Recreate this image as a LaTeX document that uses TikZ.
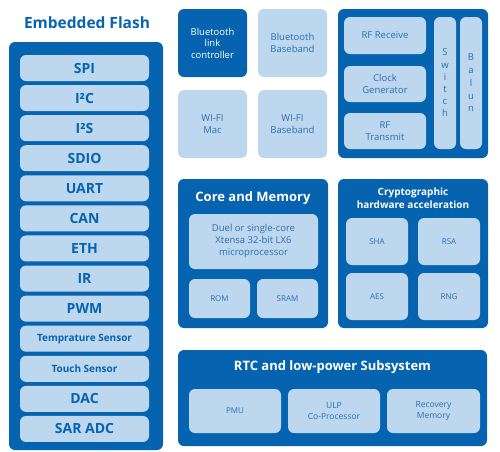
\documentclass[tikz,border=0pt]{standalone}
\usepackage{fontspec}
\setmainfont{Open Sans}
\definecolor{dblue}{HTML}{0563B0}
\definecolor{lblue}{HTML}{BDD7EE}
\definecolor{tblue}{HTML}{2A6FB3}
\tikzset{
  panel/.style={fill=dblue, draw=none, rounded corners=6pt, inner sep=0pt, outer sep=0pt},
  lbox/.style={fill=lblue, draw=none, rounded corners=6pt, inner sep=0pt, outer sep=0pt, text=tblue, align=center, font=\fontsize{9.5}{11.5}\selectfont},
  dbox/.style={lbox, fill=dblue, text=white},
  item/.style={lbox, minimum width=129pt, minimum height=26pt, text=dblue, font=\fontsize{14}{16}\selectfont\bfseries},
  smallitem/.style={item, font=\fontsize{10}{12}\selectfont\bfseries},
  ptitle/.style={text=white, align=center, inner sep=0pt, font=\fontsize{13}{15}\selectfont\bfseries},
  sbox/.style={lbox, font=\fontsize{8}{10}\selectfont}
}
\begin{document}
\begin{tikzpicture}[x=1pt,y=-1pt]
\useasboundingbox (0,0) rectangle (500,451);
% Embedded flash
\node[text=dblue, inner sep=0pt, font=\fontsize{15.5}{18}\selectfont\bfseries] (eftitle) at (87,23) {Embedded Flash};
\node[panel, minimum width=154pt, minimum height=408pt] (efpanel) at (86,246) {};
\foreach \t [count=\i from 0] in {SPI,I²C,I²S,SDIO,UART,CAN,ETH,IR,PWM}{
  \node[item] (it\i) at (84.5,{68+30.08*\i}) {\t};
}
\node[smallitem] (temp) at (84.5,{68+30.08*9}) {Temprature Sensor};
\node[smallitem] (touch) at (84.5,{68+30.08*10}) {Touch Sensor};
\node[item] (dac) at (84.5,{68+30.08*11}) {DAC};
\node[item] (sar) at (84.5,{68+30.08*12}) {SAR ADC};
% wireless boxes
\node[dbox, minimum width=69pt, minimum height=68pt] (btlc) at (212.5,43) {Bluetooth\\link\\controller};
\node[lbox, minimum width=69pt, minimum height=68pt] (btbb) at (292.5,43) {Bluetooth\\Baseband};
\node[lbox, minimum width=69pt, minimum height=68pt] (wmac) at (212.5,124) {WI-FI\\Mac};
\node[lbox, minimum width=69pt, minimum height=68pt] (wbb) at (292.5,124) {WI-FI\\Baseband};
% RF panel
\node[panel, minimum width=150pt, minimum height=149pt] (rfpanel) at (413,83.5) {};
\node[lbox, minimum width=82pt, minimum height=37pt] (rfrx) at (385,35.5) {RF Receive};
\node[lbox, minimum width=82pt, minimum height=36pt] (clk) at (385,84) {Clock\\Generator};
\node[lbox, minimum width=82pt, minimum height=36pt] (rftx) at (385,131) {RF\\Transmit};
\node[lbox, minimum width=22pt, minimum height=132pt, font=\fontsize{9.5}{12.2}\selectfont] (sw) at (445,83) {S\\w\\i\\t\\c\\h};
\node[lbox, minimum width=22pt, minimum height=132pt, font=\fontsize{9.5}{12.7}\selectfont] (balun) at (471,83) {B\\a\\l\\u\\n};
% Core and memory
\node[panel, minimum width=150pt, minimum height=149pt] (corepanel) at (253,253.5) {};
\node[ptitle] (coretitle) at (253,198) {Core and Memory};
\node[lbox, minimum width=129pt, minimum height=55pt, font=\fontsize{9.5}{12}\selectfont] (cpu) at (253.5,241.5) {Duel or single-core\\Xtensa 32-bit LX6\\microprocessor};
\node[sbox, minimum width=61pt, minimum height=39pt] (rom) at (219.5,298.5) {ROM};
\node[sbox, minimum width=61pt, minimum height=39pt] (sram) at (287.5,298.5) {SRAM};
% Crypto
\node[panel, minimum width=150pt, minimum height=149pt] (cryptopanel) at (413,253.5) {};
\node[ptitle, font=\fontsize{10}{12.5}\selectfont\bfseries] (cryptotitle) at (413,198) {Cryptographic\\hardware acceleration};
\node[sbox, minimum width=62pt, minimum height=47pt] (sha) at (377,241.5) {SHA};
\node[sbox, minimum width=62pt, minimum height=47pt] (rsa) at (449,241.5) {RSA};
\node[sbox, minimum width=62pt, minimum height=47pt] (aes) at (377,296.5) {AES};
\node[sbox, minimum width=62pt, minimum height=47pt] (rng) at (449,296.5) {RNG};
% RTC
\node[panel, minimum width=309pt, minimum height=96pt] (rtcpanel) at (332.5,398) {};
\node[ptitle] (rtctitle) at (332.5,367) {RTC and low-power Subsystem};
\node[sbox, minimum width=92pt, minimum height=44pt] (pmu) at (235,411) {PMU};
\node[sbox, minimum width=92pt, minimum height=44pt, font=\fontsize{8.5}{11}\selectfont] (ulp) at (334,411) {ULP\\Co-Processor};
\node[sbox, minimum width=93pt, minimum height=44pt, font=\fontsize{8.5}{11}\selectfont] (rec) at (433.5,411) {Recovery\\Memory};
\end{tikzpicture}
\end{document}
